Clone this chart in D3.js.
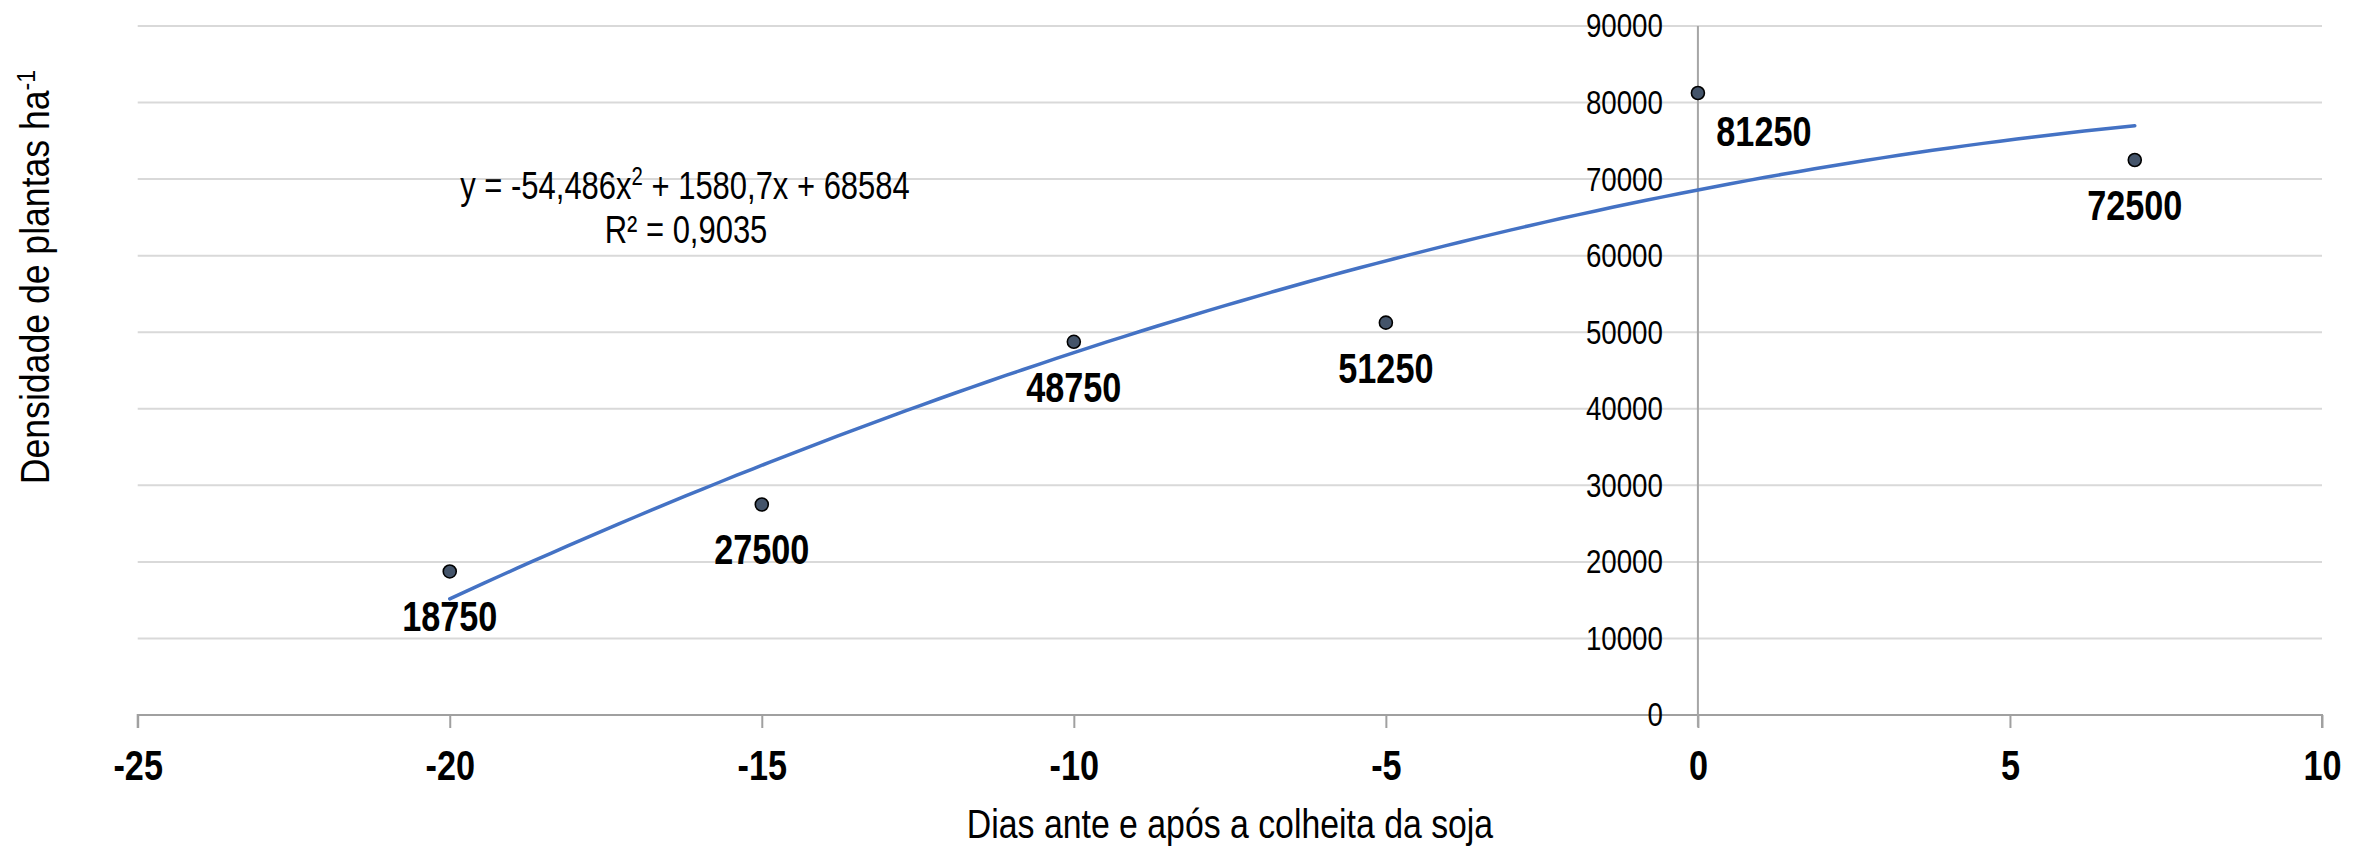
<!DOCTYPE html>
<html>
<head>
<meta charset="utf-8">
<script src="https://cdn.jsdelivr.net/npm/d3@7"></script>
<style>
  html, body { margin: 0; padding: 0; background: #fff; }
  svg { display: block; }
</style>
</head>
<body>
<svg id="chart" width="2366" height="849"></svg>
<script>
// Plant density per day relative to soybean harvest
const days = [-20, -15, -10, -5, 0, 7];
const density = [18750, 27500, 48750, 51250, 81250, 72500];
const xTicks = [-25, -20, -15, -10, -5, 0, 5, 10];
const yTicks = [0, 10000, 20000, 30000, 40000, 50000, 60000, 70000, 80000, 90000];
// Polynomial (2nd order) trendline coefficients
const trendCoef = { a: -54.486, b: 1580.7, c: 68584 };
const trendR2 = "0,9035";

const svg = d3.select("#chart");
const FONT = '"Liberation Sans", Arial, sans-serif';
const NARROW = 0.815; // horizontal condensing for a narrow sans look

const x = d3.scaleLinear().domain([-25, 10]).range([137.7, 2322]);
const y = d3.scaleLinear().domain([0, 90000]).range([715, 26]);

// place a horizontally condensed text at (px, py)
function narrowText(parent, px, py, size, weight, anchor) {
  return parent.append("text")
    .attr("transform", `translate(${px},${py}) scale(${NARROW},1)`)
    .attr("text-anchor", anchor || "middle")
    .attr("font-family", FONT).attr("font-size", size)
    .attr("font-weight", weight || "normal").attr("fill", "#000");
}

// horizontal gridlines
svg.append("g")
  .selectAll("line")
  .data(yTicks.filter(d => d > 0))
  .join("line")
  .attr("x1", x(-25)).attr("x2", x(10))
  .attr("y1", d => y(d)).attr("y2", d => y(d))
  .attr("stroke", "#d9d9d9").attr("stroke-width", 2);

// x axis (crosses at y = 0)
const xAxis = svg.append("g")
  .attr("transform", `translate(0,${y(0)})`)
  .call(d3.axisBottom(x).tickValues(xTicks).tickSize(13).tickPadding(22).tickFormat(d3.format("d")));
xAxis.select(".domain").attr("stroke", "#a0a0a0").attr("stroke-width", 2)
  .attr("d", `M${x(-25)},13V0H${x(10)}V13`);
xAxis.selectAll(".tick line").attr("stroke", "#a0a0a0").attr("stroke-width", 2);
xAxis.selectAll(".tick text")
  .attr("font-family", FONT).attr("font-size", 42).attr("font-weight", "bold").attr("fill", "#000")
  .attr("transform", `scale(${NARROW},1)`)
  .text(d => d < 0 ? "-" + Math.abs(d) : String(d));

// y axis (crosses at x = 0)
svg.append("line")
  .attr("x1", x(0)).attr("x2", x(0))
  .attr("y1", y(90000)).attr("y2", y(0) + 12)
  .attr("stroke", "#a6a6a6").attr("stroke-width", 2);
const yAxis = svg.append("g")
  .attr("transform", `translate(${x(0)},0)`)
  .call(d3.axisLeft(y).tickValues(yTicks).tickSize(0).tickPadding(35).tickFormat(d3.format("d")));
yAxis.select(".domain").remove();
yAxis.selectAll(".tick text")
  .attr("font-family", FONT).attr("font-size", 34).attr("fill", "#000")
  .attr("x", -35 / NARROW)
  .attr("transform", `scale(${NARROW},1)`);

// trendline
const trend = d => trendCoef.a * d * d + trendCoef.b * d + trendCoef.c;
const xs = d3.range(0, 101).map(i => -20 + i * 27 / 100);
svg.append("path")
  .datum(xs)
  .attr("fill", "none")
  .attr("stroke", "#4472c4")
  .attr("stroke-width", 3.5)
  .attr("stroke-linecap", "round")
  .attr("d", d3.line().x(d => x(d)).y(d => y(trend(d))));

// data points
const pts = days.map((d, i) => ({ x: d, y: density[i] }));
svg.append("g")
  .selectAll("circle")
  .data(pts)
  .join("circle")
  .attr("cx", d => x(d.x)).attr("cy", d => y(d.y))
  .attr("r", 6.5)
  .attr("fill", "#44546a").attr("stroke", "#000").attr("stroke-width", 1.6);

// data labels: below the point, except at day 0 (right-below)
const lblG = svg.append("g");
pts.forEach(d => {
  const dx = d.x === 0 ? 66 : 0;
  const dy = d.x === 0 ? 53 : 60;
  narrowText(lblG, x(d.x) + dx, y(d.y) + dy, 42, "bold").text(d.y);
});

// trendline equation
const fmt = v => String(v).replace(".", ",");
const eq = narrowText(svg, 685, 199, 38);
eq.append("tspan").text(`y = ${fmt(trendCoef.a)}x`);
eq.append("tspan").attr("dy", -14).attr("font-size", 25).text("2");
eq.append("tspan").attr("dy", 14).text(` + ${fmt(trendCoef.b)}x + ${trendCoef.c}`);
narrowText(svg, 686, 243, 38).text(`R² = ${trendR2}`);

// axis titles
narrowText(svg, 1230, 838, 41.5).text("Dias ante e após a colheita da soja");

const yt = svg.append("text")
  .attr("transform", "translate(49,277) rotate(-90) scale(0.89,1)")
  .attr("text-anchor", "middle")
  .attr("font-family", FONT).attr("font-size", 40).attr("fill", "#000");
yt.append("tspan").text("Densidade de plantas  ha");
yt.append("tspan").attr("dy", -14).attr("font-size", 26).text("-1");
</script>
</body>
</html>
